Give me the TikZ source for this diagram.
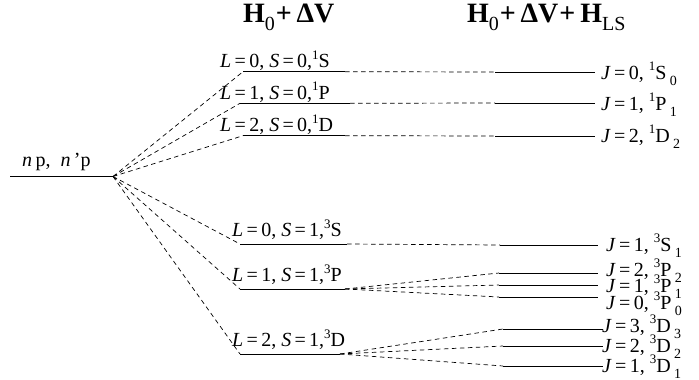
\documentclass[tikz,border=0pt]{standalone}
\usepackage{fontspec}
\setmainfont{Liberation Serif}
\newcommand\Sup[1]{\raisebox{0.42em}{\fontsize{13}{13}\selectfont #1}}
\newcommand\Sub[1]{\raisebox{-0.3em}{\fontsize{14}{14}\selectfont #1}}
\newcommand\TSub[1]{\raisebox{-0.25em}{\fontsize{20}{20}\selectfont\mdseries #1}}
\tikzset{
  level/.style={line width=1pt},
  conn/.style={line width=0.7pt, dash pattern=on 4.5pt off 3.5pt},
  lbl/.style={anchor=base west, inner sep=0pt, font=\fontsize{20}{22}\selectfont},
  ttl/.style={anchor=base west, inner sep=0pt, font=\fontsize{28}{30}\selectfont\bfseries}
}
\begin{document}
\begin{tikzpicture}[x=1pt,y=-1pt]
\useasboundingbox (0,0) rectangle (699,380);
% titles
\node[ttl] (t1) at (243,23) {H\TSub{0}\kern1pt+\,ΔV};
\node[ttl] (t2) at (467,23) {H\TSub{0}\kern1pt+\,ΔV\kern1pt+\kern5pt H\TSub{LS}};
% left level
\coordinate (L0a) at (10,176.5);
\coordinate (L0) at (113,176.5);
\draw[level] (L0a) -- (L0);
\node[lbl] (lab0) at (22,166) {\textit{n}\,p,\ \ \textit{n}\,’p};
% middle levels
\coordinate (m1Sa) at (243,71.7);  \coordinate (m1Sb) at (345,71.7);
\coordinate (m1Pa) at (240,103.3); \coordinate (m1Pb) at (350,103.3);
\coordinate (m1Da) at (243,135.7); \coordinate (m1Db) at (345,135.7);
\coordinate (m3Sa) at (240,244);   \coordinate (m3Sb) at (347,244);
\coordinate (m3Pa) at (240,289);   \coordinate (m3Pb) at (345,289);
\coordinate (m3Da) at (240,354);   \coordinate (m3Db) at (340,354);
\foreach \n in {1S,1P,1D,3S,3P,3D}{
  \draw[level] (m\n a) -- (m\n b);
  \draw[conn] (L0) -- (m\n a);
}
\node[lbl] (ml1S) at (220,67.5) {\textit{L}\,=\,0, \textit{S}\,=\,0,\Sup{1}S};
\node[lbl] (ml1P) at (220,99) {\textit{L}\,=\,1, \textit{S}\,=\,0,\Sup{1}P};
\node[lbl] (ml1D) at (220,131.5) {\textit{L}\,=\,2, \textit{S}\,=\,0,\Sup{1}D};
\node[lbl] (ml3S) at (232,236.5) {\textit{L}\,=\,0, \textit{S}\,=\,1,\Sup{3}S};
\node[lbl] (ml3P) at (232,281.5) {\textit{L}\,=\,1, \textit{S}\,=\,1,\Sup{3}P};
\node[lbl] (ml3D) at (232,346.5) {\textit{L}\,=\,2, \textit{S}\,=\,1,\Sup{3}D};
% right levels
\coordinate (r1Sa) at (495,72);   \coordinate (r1Sb) at (595,72);
\coordinate (r1Pa) at (495,103);  \coordinate (r1Pb) at (595,103);
\coordinate (r1Da) at (495,136);  \coordinate (r1Db) at (595,136);
\coordinate (r3Sa) at (500,245);  \coordinate (r3Sb) at (598,245);
\coordinate (r3P2a) at (499,273); \coordinate (r3P2b) at (598,273);
\coordinate (r3P1a) at (499,285); \coordinate (r3P1b) at (598,285);
\coordinate (r3P0a) at (499,297); \coordinate (r3P0b) at (598,297);
\coordinate (r3D3a) at (503,329); \coordinate (r3D3b) at (603,329);
\coordinate (r3D2a) at (503,346); \coordinate (r3D2b) at (603,346);
\coordinate (r3D1a) at (503,366); \coordinate (r3D1b) at (603,366);
\foreach \n in {1S,1P,1D,3S,3P2,3P1,3P0,3D3,3D2,3D1}{
  \draw[level] (r\n a) -- (r\n b);
}
\draw[conn] (m1Sb) -- (r1Sa);
\draw[conn] (m1Pb) -- (r1Pa);
\draw[conn] (m1Db) -- (r1Da);
\draw[conn] (m3Sb) -- (r3Sa);
\draw[conn] (m3Pb) -- (r3P2a);
\draw[conn] (m3Pb) -- (r3P1a);
\draw[conn] (m3Pb) -- (r3P0a);
\draw[conn] (m3Db) -- (r3D3a);
\draw[conn] (m3Db) -- (r3D2a);
\draw[conn] (m3Db) -- (r3D1a);
% right labels
\node[lbl] (rl1S) at (601,79) {\textit{J}\,=\,0, \Sup{1}S\,\Sub{0}};
\node[lbl] (rl1P) at (601,110) {\textit{J}\,=\,1, \Sup{1}P\,\Sub{1}};
\node[lbl] (rl1D) at (601,142) {\textit{J}\,=\,2, \Sup{1}D\,\Sub{2}};
\node[lbl] (rl3S) at (606,251) {\textit{J}\,=\,1, \Sup{3}S\,\Sub{1}};
\node[lbl] (rl3P2) at (606,276) {\textit{J}\,=\,2, \Sup{3}P\,\Sub{2}};
\node[lbl] (rl3P1) at (606,292) {\textit{J}\,=\,1, \Sup{3}P\,\Sub{1}};
\node[lbl] (rl3P0) at (606,309) {\textit{J}\,=\,0, \Sup{3}P\,\Sub{0}};
\node[lbl] (rl3D3) at (602,332) {\textit{J}\,=\,3, \Sup{3}D\,\Sub{3}};
\node[lbl] (rl3D2) at (602,352) {\textit{J}\,=\,2, \Sup{3}D\,\Sub{2}};
\node[lbl] (rl3D1) at (602,372) {\textit{J}\,=\,1, \Sup{3}D\,\Sub{1}};
\end{tikzpicture}
\end{document}
